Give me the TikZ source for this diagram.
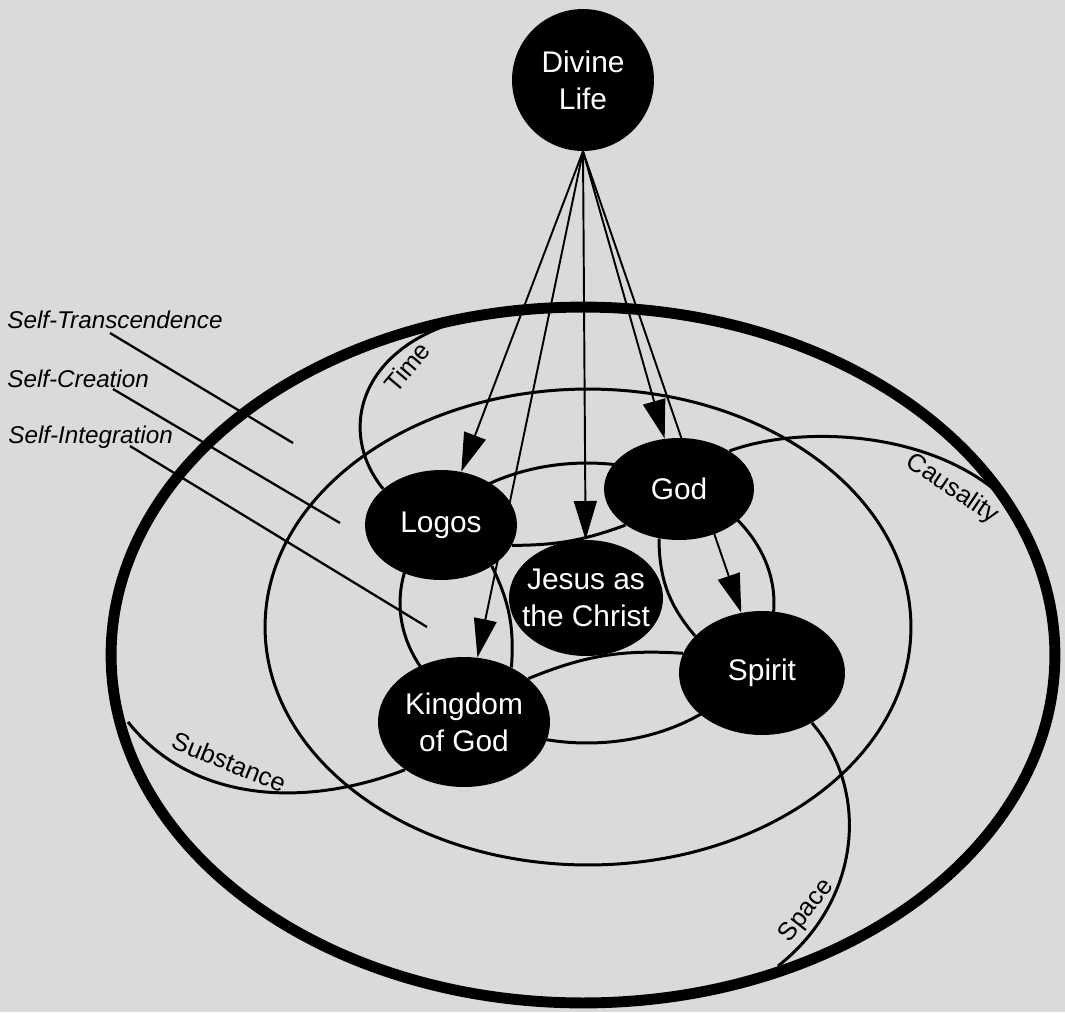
\documentclass[tikz,border=0pt]{standalone}
\usepackage{fontspec}
\setmainfont{Liberation Sans}
\usetikzlibrary{arrows.meta,calc,shapes.geometric,backgrounds}
\definecolor{paper}{RGB}{218,218,218}

\begin{document}
\begin{tikzpicture}[
  x=0.02cm, y=-0.02cm,
  blob/.style={ellipse, fill=black, inner sep=0pt},
  word/.style={text=white, align=center, font=\fontsize{17}{21}\selectfont},
  ring/.style={line width=1.7pt},
  rim/.style={line width=6.2pt},
  flow/.style={line width=1.1pt, -{Triangle[length=22pt,width=13pt]}},
  tag/.style={inner sep=0pt, font=\fontsize{14.5}{16}\selectfont},
  zone/.style={anchor=base west, inner sep=0pt, font=\itshape\fontsize{13.8}{16}\selectfont},
  pointer/.style={line width=1.3pt},
]
\useasboundingbox (0,0) rectangle (1065,1012);

% Nodes
\node[blob, circle, minimum size=2.84cm, label={[word]center:Divine\\Life}] (divine) at (583,80) {};
\node[blob, minimum width=3.04cm, minimum height=2.2cm, label={[word]center:Logos}] (logos) at (441,525) {};
\node[blob, minimum width=3.0cm, minimum height=2.04cm, label={[word]center:God}] (god) at (679,489) {};
\node[blob, minimum width=3.08cm, minimum height=2.32cm, label={[word]center:Jesus as\\the Christ}] (jesus) at (586,598) {};
\node[blob, minimum width=3.44cm, minimum height=2.6cm, label={[word]center:Kingdom\\of God}] (kingdom) at (464,722) {};
\node[blob, minimum width=3.32cm, minimum height=2.48cm, label={[word]center:Spirit}] (spirit) at (762,673) {};

% Zone labels
\node[zone] (trans)  at (7,328) {Self-Transcendence};
\node[zone] (create) at (7,387) {Self-Creation};
\node[zone] (integ)  at (8,443) {Self-Integration};

% Spoke labels
\node[tag, rotate=50]  (timelbl)  at (407,367) {Time};
\node[tag, rotate=-34] (causelbl) at (952,489) {Causality};
\node[tag, rotate=-22] (substlbl) at (229,762) {Substance};
\node[tag, rotate=52]  (spacelbl) at (807,911) {Space};

% Free ends
\coordinate (timeend)  at (480,316);
\coordinate (causeend) at (1003,497);
\coordinate (substend) at (128,722);
\coordinate (spaceend) at (778,966);
\coordinate (transpt)  at (293,443);
\coordinate (creatept) at (340,523);
\coordinate (integpt)  at (427,627);

\begin{scope}[on background layer]
\fill[paper] (0,0) rectangle (1065,1012);

% Rings
\draw[rim]  (583,655) ellipse [x radius=9.44cm, y radius=6.96cm];
\draw[ring] (588,627) ellipse [x radius=6.46cm, y radius=4.76cm];
\draw[ring] (587,603) ellipse [x radius=3.74cm, y radius=2.8cm];

% Inner arcs
\draw[ring] (logos.-16)   to[bend right=10] (god.214);
\draw[ring] (logos.-39)   to[bend left=15]  (kingdom.49);
\draw[ring] (god.-112)    to[bend right=20] (spirit.151);
\draw[ring] (kingdom.34)  to[bend left=13]  (spirit.166);

% Spokes
\draw[ring] (logos.148)   .. controls (335,430) and (360,340) .. (timeend);
\draw[ring] (god.37)      .. controls (800,425) and (930,430) .. (causeend);
\draw[ring] (kingdom.219) .. controls (300,810) and (190,800) .. (substend);
\draw[ring] (spirit.-45)  .. controls (870,790) and (862,900) .. (spaceend);

% Flows from Divine Life
\draw[flow] (divine.south) -- (logos);
\draw[flow] (divine.south) -- (kingdom);
\draw[flow] (divine.south) -- (jesus);
\draw[flow] (divine.south) -- (god);
\draw[flow] (divine.south) -- (spirit);

% Pointers
\draw[pointer] ($(trans.base west)+(103,5)$)  -- (transpt);
\draw[pointer] ($(create.base west)+(106,2)$) -- (creatept);
\draw[pointer] ($(integ.base west)+(122,3)$)  -- (integpt);
\end{scope}

\end{tikzpicture}
\end{document}
